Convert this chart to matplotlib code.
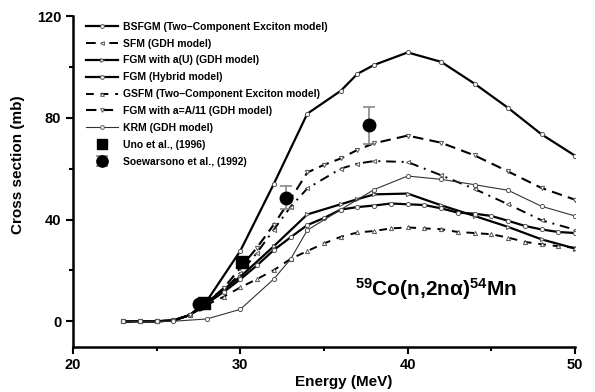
import matplotlib
matplotlib.use("Agg")
import matplotlib.pyplot as plt
from matplotlib.ticker import MultipleLocator

plt.rcParams['font.family'] = ['Liberation Sans', 'DejaVu Sans']
plt.rcParams['font.weight'] = 'bold'
plt.rcParams['mathtext.fontset'] = 'custom'
plt.rcParams['mathtext.rm'] = 'Liberation Sans:bold'
plt.rcParams['mathtext.it'] = 'Liberation Sans:bold:italic'
plt.rcParams['mathtext.bf'] = 'Liberation Sans:bold'

# calculated excitation functions (energy in MeV, cross section in mb)
e_bsfgm = [23, 24, 25, 26, 27, 28, 30, 32, 34, 36, 37, 38, 40, 42, 44, 46, 48, 50]
cs_bsfgm = [0, 0, 0, 0.3, 2.5, 8, 27.7, 54, 81.6, 90.6, 97.3, 100.8, 105.7, 102, 93.4, 83.9, 73.5, 65.1]

e_sfm = [23, 24, 25, 26, 27, 28, 29, 30, 31, 32, 33, 34, 36, 37, 38, 40, 42, 44, 46, 48, 50]
cs_sfm = [0, 0, 0, 0.3, 2.5, 7, 12, 19, 27, 36, 45, 52.2, 60, 62, 63, 62.6, 57.4, 52, 46, 39.7, 36]

e_au = [23, 24, 25, 26, 27, 28, 30, 32, 34, 36, 37, 38, 40, 42, 44, 46, 48, 50]
cs_au = [0, 0, 0, 0.3, 2.5, 7.5, 17.5, 29.5, 42, 46, 48, 49.9, 50.2, 45.6, 41.4, 37.1, 32.2, 28.6]

e_hyb = [23, 24, 25, 26, 27, 28, 29, 30, 31, 32, 33, 34, 35, 36, 37, 38, 39, 40, 41, 42, 43, 44, 45, 46, 47, 48, 49, 50]
cs_hyb = [0, 0, 0, 0.3, 2.5, 7, 11.5, 16.5, 22, 28, 33, 37.8, 40.6, 43.9, 44.9, 45.5, 46.3, 46.0, 45.7, 44.4,
          42.7, 42.3, 41.4, 39.5, 37.5, 36.1, 35.1, 34.7]

e_gsfm = [23, 24, 25, 26, 27, 28, 29, 30, 31, 32, 33, 34, 35, 36, 37, 38, 39, 40, 41, 42, 43, 44, 45, 46, 47, 48, 49, 50]
cs_gsfm = [0, 0, 0, 0.3, 2.5, 6.5, 9.6, 13.3, 16.6, 20.1, 24.5, 27.6, 30.6, 33.2, 34.9, 35.5, 36.5, 36.9, 36.5, 36.2,
           35.1, 34.7, 34.2, 32.9, 31.2, 30.3, 29.5, 28.9]

e_a11 = [23, 24, 25, 26, 27, 28, 29, 30, 31, 32, 33, 34, 35, 36, 37, 38, 40, 42, 44, 46, 48, 50]
cs_a11 = [0, 0, 0, 0.3, 2.5, 7.5, 13, 21, 29, 38, 48, 58.5, 61.5, 64, 67.4, 70, 73, 70.2, 65.2, 58.9, 52.4, 47.8]

e_krm = [23, 24, 25, 26, 28, 30, 32, 33, 34, 36, 38, 40, 42, 44, 46, 48, 50]
cs_krm = [0, 0, 0, 0, 0.9, 4.7, 16.6, 24.4, 35.8, 43.9, 51.8, 57.1, 55.8, 53.7, 51.5, 45.2, 41.4]

# experimental data
e_uno = [27.8, 30.1]
cs_uno = [7.3, 23.3]
e_soe = [27.5, 32.7, 37.7]
cs_soe = [6.8, 48.6, 77.0]
err_soe = [0.5, 4.6, 7.2]

fig = plt.figure(figsize=(5.95, 3.92), dpi=100)
ax = fig.add_axes([0.1227, 0.1156, 0.8437, 0.8434])

mk = dict(markersize=3, markerfacecolor='white', markeredgecolor='#555555', markeredgewidth=0.7)

ax.plot(e_bsfgm, cs_bsfgm, color='black', lw=1.6, marker='o',
        label='BSFGM (Two\u2013Component Exciton model)', **mk)
ax.plot(e_sfm, cs_sfm, color='black', lw=1.4, marker='<', dashes=(5, 3, 1, 3),
        label='SFM (GDH model)', **mk)
ax.plot(e_au, cs_au, color='black', lw=1.6, marker='>',
        label='FGM with a(U) (GDH model)', **mk)
ax.plot(e_hyb, cs_hyb, color='black', lw=1.6, marker='o',
        label='FGM (Hybrid model)', **mk)
ax.plot(e_gsfm, cs_gsfm, color='black', lw=1.4, marker='^', dashes=(4, 3.5),
        label='GSFM (Two\u2013Component Exciton model)', **mk)
ax.plot(e_a11, cs_a11, color='black', lw=1.5, marker='v', dashes=(5, 3),
        label='FGM with a=A/11 (GDH model)', **mk)
ax.plot(e_krm, cs_krm, color='#333333', lw=0.8, marker='o',
        label='KRM (GDH model)', **mk)
ax.plot(e_uno, cs_uno, 's', color='black', markersize=8, label='Uno et al., (1996)')
ax.errorbar(e_soe, cs_soe, yerr=err_soe, fmt='o', color='black', markersize=9,
            ecolor='#888888', elinewidth=1.2, capsize=4, capthick=1.2,
            label='Soewarsono et al., (1992)')

ax.text(41.7, 12.5, r'$^{\mathbf{59}}$Co(n,2n' + '\u03b1' + r')$^{\mathbf{54}}$Mn', fontsize=15,
        fontweight='bold', ha='center', va='center')

ax.set_xlim(20, 50)
ax.set_ylim(-10, 120)
ax.xaxis.set_major_locator(MultipleLocator(10))
ax.xaxis.set_minor_locator(MultipleLocator(5))
ax.yaxis.set_major_locator(MultipleLocator(40))
ax.yaxis.set_minor_locator(MultipleLocator(20))
ax.tick_params(which='major', direction='out', length=5, width=1.5, labelsize=10.5)
ax.tick_params(which='minor', direction='out', length=3, width=1.5)
for lab in ax.get_xticklabels() + ax.get_yticklabels():
    lab.set_fontweight('bold')
for s in ['top', 'right']:
    ax.spines[s].set_visible(False)
for s in ['left', 'bottom']:
    ax.spines[s].set_linewidth(1.8)

ax.set_xlabel('Energy (MeV)', fontsize=11, fontweight='bold')
ax.xaxis.set_label_coords(0.54, -0.085)
ax.set_ylabel('Cross section (mb)', fontsize=11, fontweight='bold')
ax.yaxis.set_label_coords(-0.095, 0.55)

leg = ax.legend(loc='upper left', bbox_to_anchor=(0.012, 1.005), frameon=False,
                prop={'size': 7.5, 'weight': 'bold'}, handlelength=3.0,
                handletextpad=0.5, labelspacing=0.66, borderaxespad=0.3,
                markerscale=0.9)

fig.savefig('out.png', dpi=100)
